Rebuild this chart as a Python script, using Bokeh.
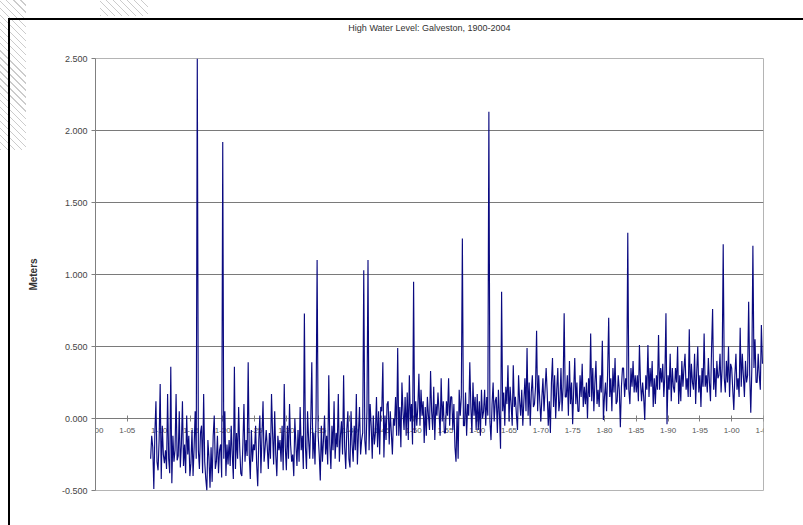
import numpy as np
from bokeh.plotting import figure
from bokeh.layouts import column
from bokeh.models import (FixedTicker, NumeralTickFormatter, Range1d,
                          ColumnDataSource, Title)
from bokeh.embed import file_html
from bokeh.resources import INLINE

# Bi-monthly high-water readings (metres), six per year, from autumn 1908
start_year = 1908 + 4 / 6
step_years = 1 / 6
levels = [
    -0.28, -0.12,                                   # 1908
    -0.20, -0.49, -0.10, 0.12, -0.30, -0.36,        # 1909
    -0.15, 0.24, -0.42, -0.05, -0.25, -0.31,        # 1910
    -0.22, -0.35, 0.17, -0.28, -0.38, 0.36,         # 1911
    -0.45, -0.12, -0.30, -0.22, 0.17, -0.29,        # 1912
    -0.26, 0.05, -0.34, -0.18, 0.12, -0.33,         # 1913
    -0.18, -0.38, 0.02, -0.25, -0.12, -0.40,        # 1914
    -0.31, -0.08, -0.40, -0.20, 0.05, -0.28,        # 1915
    2.50, -0.22, -0.35, -0.10, -0.05, -0.38,        # 1916
    0.17, -0.30, -0.42, -0.50, -0.15, -0.27,        # 1917
    -0.48, -0.20, -0.44, -0.12, 0.02, -0.35,        # 1918
    -0.30, -0.12, -0.38, -0.22, -0.18, -0.41,       # 1919
    1.92, -0.28, 0.05, -0.40, -0.18, -0.32,         # 1920
    -0.15, -0.33, -0.05, -0.25, -0.42, 0.36,        # 1921
    -0.35, -0.10, -0.28, 0.08, -0.20, -0.38,        # 1922
    -0.40, -0.18, 0.10, -0.30, -0.15, -0.26,        # 1923
    0.39, -0.25, -0.42, -0.08, -0.30, -0.18,        # 1924
    -0.22, -0.05, -0.32, -0.47, -0.15, 0.02,        # 1925
    -0.38, -0.12, 0.12, -0.30, -0.20, -0.08,        # 1926
    -0.20, -0.35, -0.10, -0.28, 0.17, -0.10,        # 1927
    -0.32, 0.05, -0.25, -0.40, -0.12, -0.22,        # 1928
    -0.15, -0.30, -0.05, -0.36, 0.24, -0.20,        # 1929
    -0.36, -0.05, -0.28, 0.10, -0.18, -0.30,        # 1930
    -0.25, -0.40, 0.00, -0.18, -0.33, -0.08,        # 1931
    -0.30, 0.08, -0.22, -0.12, -0.35, 0.73,         # 1932
    -0.20, -0.35, 0.05, -0.15, -0.28, -0.02,        # 1933
    0.39, -0.28, -0.10, -0.32, 0.02, 1.10,          # 1934
    -0.12, -0.25, -0.43, -0.05, -0.30, -0.15,       # 1935
    0.02, -0.25, -0.12, -0.32, 0.30, -0.18,         # 1936
    -0.35, -0.05, -0.22, 0.12, -0.28, -0.10,        # 1937
    -0.20, 0.17, -0.30, -0.12, -0.02, -0.25,        # 1938
    0.30, -0.20, -0.35, -0.08, 0.05, -0.28,         # 1939
    -0.34, 0.05, -0.18, -0.30, -0.05, -0.22,        # 1940
    0.17, -0.32, -0.10, 0.08, -0.25, -0.15,         # 1941
    -0.10, 1.03, -0.15, -0.25, 0.05, 1.10,          # 1942
    -0.22, 0.10, -0.05, -0.28, 0.02, -0.18,         # 1943
    -0.10, 0.15, -0.20, 0.05, -0.25, 0.08,          # 1944
    0.05, 0.39, -0.27, 0.02, -0.15, 0.10,           # 1945
    0.12, -0.18, 0.05, -0.10, -0.25, 0.00,          # 1946
    -0.05, 0.15, -0.12, 0.49, -0.12, 0.08,          # 1947
    -0.20, 0.25, 0.05, -0.08, 0.15, -0.12,          # 1948
    0.18, -0.15, 0.30, -0.02, 0.10, -0.18,          # 1949
    0.95, -0.10, 0.12, -0.05, 0.08, 0.31,           # 1950
    -0.05, 0.20, 0.02, 0.12, -0.17, 0.08,           # 1951
    -0.12, 0.15, 0.02, -0.08, 0.33, 0.05,           # 1952
    -0.08, 0.22, -0.15, 0.10, 0.02, 0.18,           # 1953
    0.05, -0.12, 0.28, -0.02, 0.12, -0.10,          # 1954
    -0.10, 0.12, 0.02, 0.28, -0.05, 0.15,           # 1955
    0.15, -0.08, 0.10, -0.20, -0.30, 0.05,          # 1956
    -0.28, 0.20, 0.02, 0.15, 1.25, -0.05,           # 1957
    -0.05, 0.18, -0.12, 0.10, 0.02, 0.39,           # 1958
    0.08, -0.10, 0.25, 0.02, 0.15, -0.08,           # 1959
    0.17, -0.08, 0.12, -0.12, 0.20, 0.00,           # 1960
    0.05, 0.20, -0.05, 0.15, 0.02, 2.13,            # 1961
    -0.02, -0.15, 0.10, 0.25, -0.02, 0.12,          # 1962
    0.15, -0.10, 0.20, 0.02, -0.21, 0.88,           # 1963
    0.05, 0.18, -0.05, 0.22, 0.10, 0.37,            # 1964
    -0.02, 0.22, 0.10, -0.05, 0.37, 0.08,           # 1965
    0.15, 0.02, -0.08, 0.30, 0.12, 0.02,            # 1966
    0.20, -0.05, 0.12, 0.28, 0.05, 0.49,            # 1967
    0.02, 0.25, -0.05, 0.18, 0.30, 0.08,            # 1968
    0.10, 0.22, 0.61, 0.05, 0.30, 0.12,             # 1969
    -0.02, 0.15, 0.28, 0.05, 0.20, 0.35,            # 1970
    0.18, -0.05, 0.12, -0.10, 0.25, 0.42,           # 1971
    0.08, 0.30, 0.00, 0.20, 0.35, 0.05,             # 1972
    0.12, 0.35, 0.05, 0.22, 0.73, 0.15,             # 1973
    0.15, 0.30, 0.02, 0.40, 0.10, 0.25,             # 1974
    -0.04, 0.20, 0.42, 0.10, 0.25, 0.05,            # 1975
    0.05, 0.30, 0.15, 0.38, 0.08, 0.22,             # 1976
    0.10, 0.25, 0.00, 0.28, 0.15, 0.59,             # 1977
    0.12, 0.35, 0.05, 0.25, 0.40, 0.10,             # 1978
    0.20, 0.08, 0.30, 0.18, 0.54, -0.01,            # 1979
    0.15, 0.25, 0.05, 0.32, 0.70, 0.15,             # 1980
    0.28, 0.05, 0.35, 0.18, 0.42, 0.10,             # 1981
    0.12, 0.30, 0.20, -0.06, 0.22, 0.35,            # 1982
    0.35, 0.15, 0.28, 0.20, 1.29, 0.20,             # 1983
    0.10, 0.35, 0.22, 0.40, 0.18, 0.30,             # 1984
    0.18, 0.30, 0.12, 0.51, 0.25, 0.12,             # 1985
    0.25, 0.15, -0.01, 0.30, 0.20, 0.51,            # 1986
    0.15, 0.35, 0.22, 0.40, 0.08, 0.28,             # 1987
    0.10, 0.30, 0.20, 0.58, 0.20, 0.35,             # 1988
    0.25, 0.38, 0.15, 0.30, 0.73, -0.04,            # 1989
    0.30, 0.20, 0.45, 0.12, 0.35, 0.22,             # 1990
    0.18, 0.35, 0.25, 0.50, 0.10, 0.30,             # 1991
    0.12, 0.40, 0.22, 0.35, 0.45, 0.20,             # 1992
    0.28, 0.15, 0.62, 0.15, 0.38, 0.25,             # 1993
    0.20, 0.45, 0.10, 0.32, 0.50, 0.18,             # 1994
    0.30, 0.08, 0.35, 0.22, 0.59, 0.22,             # 1995
    0.30, 0.18, 0.42, 0.25, 0.12, 0.48,             # 1996
    0.76, 0.20, 0.35, 0.15, 0.40, 0.28,             # 1997
    0.30, 0.45, 0.18, 0.35, 1.21, 0.28,             # 1998
    0.18, 0.40, 0.25, 0.50, 0.15, 0.38,             # 1999
    0.35, 0.20, 0.06, 0.30, 0.45, 0.20,             # 2000
    0.28, 0.15, 0.63, 0.22, 0.45, 0.30,             # 2001
    0.15, 0.40, 0.25, 0.30, 0.81, 0.30,             # 2002
    0.04, 0.35, 1.20, 0.35, 0.55, 0.25,             # 2003
    0.25, 0.45, 0.30, 0.20, 0.65, 0.38,             # 2004
]
years = start_year + step_years * np.arange(len(levels))

y_ticks = [-0.5, 0.0, 0.5, 1.0, 1.5, 2.0, 2.5]
x_ticks = list(range(1900, 2006, 5))
x_tick_labels = ["1-00", "1-05", "1-10", "1-15", "1-20", "1-25", "1-30",
                 "1-35", "1-40", "1-45", "1-50", "1-55", "1-60", "1-65",
                 "1-70", "1-75", "1-80", "1-85", "1-90", "1-95", "1-00",
                 "1-05"]

FONT = "Liberation Sans"

p = figure(width=795, height=507, output_backend="svg", toolbar_location=None,
           x_range=Range1d(1900, 2005), y_range=Range1d(-0.5, 2.5),
           min_border_left=85, min_border_right=42,
           min_border_top=0, min_border_bottom=37,
           background_fill_color="white", border_fill_alpha=0)
p.margin = (18, 0, 0, 8)
p.styles = {"border-top": "2px solid #000000", "border-left": "2px solid #000000"}

# blank band between the plot area and the heading
p.add_layout(Title(text=" ", text_font_size="11px", standoff=12), "above")

p.title.text = "High Water Level: Galveston, 1900-2004"
p.title.align = "center"
p.title.offset = -7
p.title.standoff = 0
p.title.text_font = FONT
p.title.text_font_size = "9px"
p.title.text_font_style = "normal"
p.title.text_color = "#333333"

p.outline_line_color = "#b4b4b4"
p.outline_line_width = 1

# horizontal grid only
p.xgrid.visible = False
p.ygrid.ticker = FixedTicker(ticks=y_ticks)
p.ygrid.grid_line_color = "#7a7a7a"
p.ygrid.grid_line_width = 1

# value axis
yax = p.yaxis[0]
yax.ticker = FixedTicker(ticks=y_ticks)
yax.formatter = NumeralTickFormatter(format="0.000")
yax.axis_label = "Meters"
yax.axis_label_text_font = FONT
yax.axis_label_text_font_size = "10px"
yax.axis_label_text_font_style = "bold"
yax.axis_label_text_color = "#333333"
yax.axis_label_standoff = 20
yax.major_label_text_font = FONT
yax.major_label_text_font_size = "9px"
yax.major_label_text_color = "#444444"
yax.major_label_standoff = 4
yax.axis_line_color = "#808080"
yax.major_tick_line_color = "#808080"
yax.major_tick_out = 4
yax.major_tick_in = 0
yax.minor_tick_line_color = None

# date axis crossing at zero, drawn beneath the series
xax = p.xaxis[0]
xax.fixed_location = 0
xax.level = "underlay"
xax.ticker = FixedTicker(ticks=x_ticks)
xax.major_label_overrides = {t: lab for t, lab in zip(x_ticks, x_tick_labels)}
xax.major_label_text_font = FONT
xax.major_label_text_font_size = "8px"
xax.major_label_text_color = "#555555"
xax.major_label_standoff = 6
xax.axis_line_color = "#808080"
xax.major_tick_line_color = "#808080"
xax.major_tick_out = 3
xax.major_tick_in = 3
xax.minor_tick_line_color = None

src = ColumnDataSource(dict(year=years, level=levels))
p.line("year", "level", source=src, line_color="#0a0a80", line_width=1.15)

# page with faint hatched marks in the top-left corner
hatch = ("repeating-linear-gradient(45deg, #cccccc 0px, #cccccc 1px, "
         "transparent 1px, transparent 5px)")
page = column(p, styles={
    "background-color": "white",
    "background-image": hatch + ", " + hatch,
    "background-size": "26px 150px, 48px 16px",
    "background-position": "0px 0px, 100px 0px",
    "background-repeat": "no-repeat",
})

open("out.html", "w").write(file_html(page, INLINE))
